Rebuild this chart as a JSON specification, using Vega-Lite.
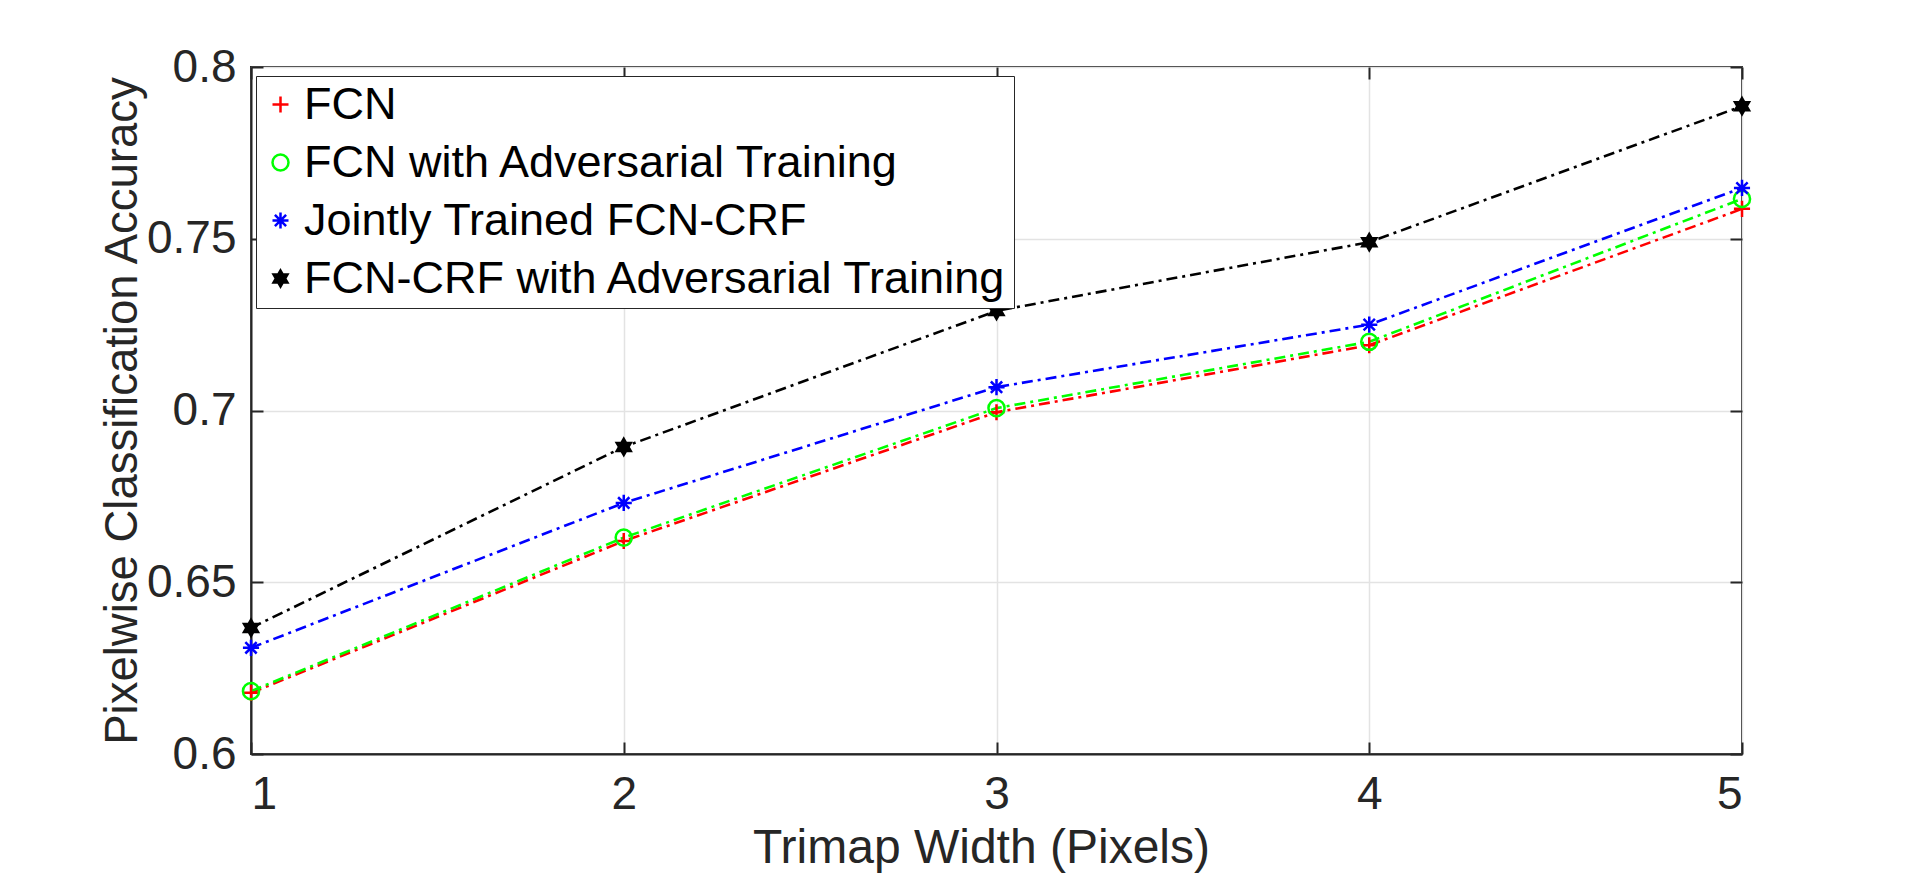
{
  "$schema": "https://vega.github.io/schema/vega-lite/v6.json",
  "width": 1491,
  "height": 687,
  "autosize": {"type": "none"},
  "padding": {"left": 251, "top": 67, "right": 178, "bottom": 125},
  "background": "white",
  "config": {
    "font": "Liberation Sans",
    "view": {"stroke": "#262626", "strokeWidth": 2},
    "axis": {
      "domainColor": "#262626",
      "domainWidth": 2,
      "gridColor": "#e3e3e3",
      "gridWidth": 1.5,
      "tickColor": "#262626",
      "tickWidth": 2,
      "labelColor": "#262626",
      "titleColor": "#262626",
      "labelFont": "Liberation Sans",
      "titleFont": "Liberation Sans",
      "labelFontSize": 46,
      "titleFontSize": 47,
      "titleFontWeight": "normal"
    }
  },
  "data": {
    "values": [
      {"x": 1, "series": "FCN", "acc": 0.6178},
      {"x": 2, "series": "FCN", "acc": 0.6620},
      {"x": 3, "series": "FCN", "acc": 0.6995},
      {"x": 4, "series": "FCN", "acc": 0.7190},
      {"x": 5, "series": "FCN", "acc": 0.7587},
      {"x": 1, "series": "FCN with Adversarial Training", "acc": 0.6183},
      {"x": 2, "series": "FCN with Adversarial Training", "acc": 0.6630},
      {"x": 3, "series": "FCN with Adversarial Training", "acc": 0.7007},
      {"x": 4, "series": "FCN with Adversarial Training", "acc": 0.7200},
      {"x": 5, "series": "FCN with Adversarial Training", "acc": 0.7616},
      {"x": 1, "series": "Jointly Trained FCN-CRF", "acc": 0.6309},
      {"x": 2, "series": "Jointly Trained FCN-CRF", "acc": 0.6731},
      {"x": 3, "series": "Jointly Trained FCN-CRF", "acc": 0.7068},
      {"x": 4, "series": "Jointly Trained FCN-CRF", "acc": 0.7250},
      {"x": 5, "series": "Jointly Trained FCN-CRF", "acc": 0.7648},
      {"x": 1, "series": "FCN-CRF with Adversarial Training", "acc": 0.6367},
      {"x": 2, "series": "FCN-CRF with Adversarial Training", "acc": 0.6894},
      {"x": 3, "series": "FCN-CRF with Adversarial Training", "acc": 0.7290},
      {"x": 4, "series": "FCN-CRF with Adversarial Training", "acc": 0.7490},
      {"x": 5, "series": "FCN-CRF with Adversarial Training", "acc": 0.7886}
    ]
  },
  "encoding": {
    "x": {
      "field": "x",
      "type": "quantitative",
      "scale": {"domain": [1, 5], "nice": false, "zero": false},
      "axis": {
        "values": [1, 2, 3, 4, 5],
        "format": "d",
        "title": "Trimap Width (Pixels)",
        "titleFontSize": 48,
        "grid": true,
        "tickSize": -12,
        "labelPadding": 30,
        "titleX": 730,
        "titleY": 94,
        "titleBaseline": "middle",
        "titleAlign": "center"
      }
    },
    "y": {
      "field": "acc",
      "type": "quantitative",
      "scale": {"domain": [0.6, 0.8], "nice": false, "zero": false},
      "axis": {
        "values": [0.6, 0.65, 0.7, 0.75, 0.8],
        "format": "~g",
        "title": "Pixelwise Classification Accuracy",
        "titleFontSize": 45.5,
        "grid": true,
        "tickSize": -12,
        "labelPadding": 27,
        "titleX": -129,
        "titleY": 343.5,
        "titleAngle": -90,
        "titleBaseline": "middle",
        "titleAlign": "center"
      }
    }
  },
  "resolve": {"axis": {"x": "independent", "y": "independent"}},
  "layer": [
    {
      "mark": {"type": "line", "strokeWidth": 2.6, "strokeDash": [11, 5, 3, 5]},
      "encoding": {
        "x": {
          "field": "x",
          "type": "quantitative",
          "axis": {
            "orient": "top",
            "values": [1, 2, 3, 4, 5],
            "labels": false,
            "title": null,
            "grid": false,
            "domain": false,
            "tickSize": -12
          }
        },
        "y": {
          "field": "acc",
          "type": "quantitative",
          "axis": {
            "orient": "right",
            "values": [0.6, 0.65, 0.7, 0.75, 0.8],
            "labels": false,
            "title": null,
            "grid": false,
            "domain": false,
            "tickSize": -12
          }
        },
        "stroke": {
          "field": "series",
          "type": "nominal",
          "scale": {
            "domain": ["FCN", "FCN with Adversarial Training", "Jointly Trained FCN-CRF", "FCN-CRF with Adversarial Training"],
            "range": ["#ff0000", "#00ff00", "#0000ff", "#000000"]
          }
        }
      }
    },
    {
      "mark": {"type": "point", "size": 260, "strokeWidth": 2.5, "opacity": 1},
      "encoding": {
        "stroke": {
          "field": "series",
          "type": "nominal",
          "scale": {
            "domain": ["FCN", "FCN with Adversarial Training", "Jointly Trained FCN-CRF", "FCN-CRF with Adversarial Training"],
            "range": ["#ff0000", "#00ff00", "#0000ff", "#000000"]
          },
          "legend": {
            "title": null,
            "orient": "none",
            "legendX": 5,
            "legendY": 9,
            "fillColor": "white",
            "strokeColor": "#262626",
            "padding": 6,
            "labelFontSize": 45,
            "labelFont": "Liberation Sans",
            "labelColor": "black",
            "labelLimit": 1000,
            "rowPadding": 12,
            "symbolSize": 256,
            "symbolStrokeWidth": 2.5,
            "symbolOffset": -4,
            "labelOffset": 1
          }
        },
        "fill": {
          "field": "series",
          "type": "nominal",
          "scale": {
            "domain": ["FCN", "FCN with Adversarial Training", "Jointly Trained FCN-CRF", "FCN-CRF with Adversarial Training"],
            "range": ["transparent", "transparent", "transparent", "#000000"]
          }
        },
        "shape": {
          "field": "series",
          "type": "nominal",
          "scale": {
            "domain": ["FCN", "FCN with Adversarial Training", "Jointly Trained FCN-CRF", "FCN-CRF with Adversarial Training"],
            "range": [
              "M-1,0H1M0,-1V1",
              "circle",
              "M-1,0H1M0,-1V1M-0.7,-0.7L0.7,0.7M-0.7,0.7L0.7,-0.7",
              "M0,-1L0.866,0.5L-0.866,0.5ZM0,1L-0.866,-0.5L0.866,-0.5Z"
            ]
          }
        }
      }
    }
  ]
}
